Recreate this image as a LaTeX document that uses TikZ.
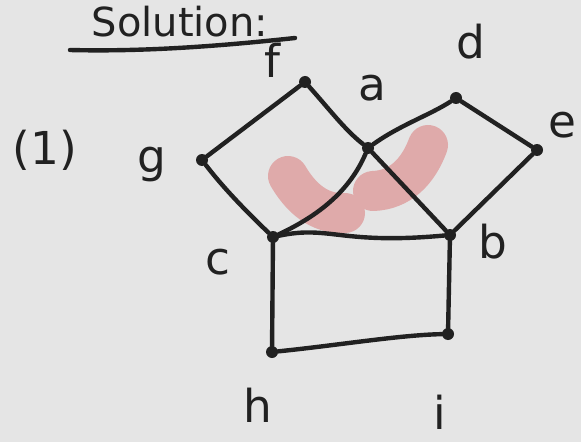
\documentclass[tikz,border=0pt]{standalone}
\usepackage{fontspec}
\setmainfont{DejaVu Sans}
\definecolor{hl}{RGB}{223,170,170}
\definecolor{ink}{RGB}{33,33,33}
\begin{document}
\begin{tikzpicture}[x=0.75pt,y=-0.75pt,
  vtx/.style={circle,fill=ink,inner sep=0pt,minimum size=9pt},
  edge/.style={line width=3.3pt,ink,line cap=round,line join=round},
  lbl/.style={font=\fontsize{34}{34}\selectfont,text=ink},
  blob/.style={line width=30pt,hl,line cap=round}]
\fill[gray!20] (0,0) rectangle (581,442);
\useasboundingbox (0,0) rectangle (581,442);
% highlight
\draw[blob] (288,176) .. controls (305,205) and (325,214) .. (345,213);
\draw[blob] (428,145) .. controls (418,172) and (400,190) .. (373,191);
% title
\node[lbl,font=\fontsize{30}{30}\selectfont,anchor=base] (title) at (180,37) {Solution:};
\draw[edge] (70,50) .. controls (150,52) and (230,45) .. (295,38);
% vertices
\node[vtx] (f) at (305,82) {};
\node[vtx] (a) at (368,148) {};
\node[vtx] (d) at (456,98) {};
\node[vtx] (e) at (537,150) {};
\node[vtx] (g) at (202,160) {};
\node[vtx] (c) at (273,237) {};
\node[vtx] (b) at (450,235) {};
\node[vtx] (h) at (272,352) {};
\node[vtx] (i) at (448,334) {};
% edges
\draw[edge] (g) -- (f);
\draw[edge] (f) .. controls (330,110) and (345,130) .. (a);
\draw[edge] (a) .. controls (400,125) and (430,115) .. (d);
\draw[edge] (d) -- (e);
\draw[edge] (e) -- (b);
\draw[edge] (a) -- (b);
\draw[edge] (a) .. controls (350,190) and (320,215) .. (c);
\draw[edge] (g) .. controls (225,190) and (250,215) .. (c);
\draw[edge] (c) .. controls (330,225) and (340,245) .. (b);
\draw[edge] (c) -- (h);
\draw[edge] (b) -- (i);
\draw[edge] (h) .. controls (340,345) and (400,335) .. (i);
% labels
\node[lbl] (lf) at (272,60) {f};
\node[lbl] (la) at (372,88) {a};
\node[lbl] (ld) at (471,42) {d};
\node[lbl] (le) at (562,125) {e};
\node[lbl] (lg) at (152,165) {g};
\node[lbl] (l1) at (45,150) {(1)};
\node[lbl] (lc) at (218,262) {c};
\node[lbl] (lb) at (493,242) {b};
\node[lbl] (lh) at (258,405) {h};
\node[lbl] (li) at (440,412) {i};
\end{tikzpicture}
\end{document}
